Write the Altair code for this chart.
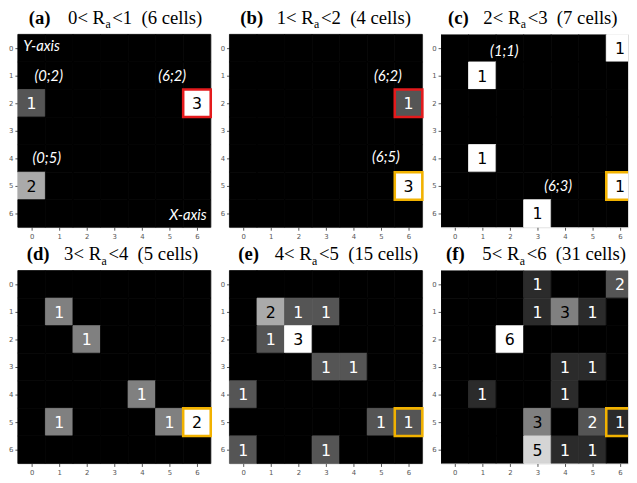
import altair as alt
import pandas as pd

# ---------------- data ----------------
panel_ids = ["a", "b", "c", "d", "e", "f"]
range_lo = [0, 1, 2, 3, 4, 5]
range_hi = [1, 2, 3, 4, 5, 6]
cell_counts = [6, 4, 7, 5, 15, 31]

cell_cols = {
    "a": [0, 6, 0],
    "b": [6, 6],
    "c": [6, 1, 1, 6, 3],
    "d": [1, 2, 4, 1, 5, 6],
    "e": [1, 2, 3, 1, 2, 3, 4, 0, 5, 6, 0, 3],
    "f": [3, 6, 3, 4, 5, 2, 4, 5, 1, 4, 3, 5, 6, 3, 4, 5],
}
cell_rows = {
    "a": [2, 2, 5],
    "b": [2, 5],
    "c": [0, 1, 4, 5, 6],
    "d": [1, 2, 4, 5, 5, 5],
    "e": [1, 1, 1, 2, 2, 3, 3, 4, 5, 5, 6, 6],
    "f": [0, 0, 1, 1, 1, 2, 3, 3, 4, 4, 5, 5, 5, 6, 6, 6],
}
cell_vals = {
    "a": [1, 3, 2],
    "b": [1, 3],
    "c": [1, 1, 1, 1, 1],
    "d": [1, 1, 1, 1, 1, 2],
    "e": [2, 1, 1, 1, 3, 1, 1, 1, 1, 1, 1, 1],
    "f": [1, 2, 1, 3, 1, 6, 1, 1, 1, 1, 3, 2, 1, 5, 1, 1],
}

red_cells = {"a": [(6, 2)], "b": [(6, 2)]}
orange_cells = {"b": [(6, 5)], "c": [(6, 5)], "d": [(6, 5)], "e": [(6, 5)], "f": [(6, 5)]}

ann_text = {
    "a": ["(0;2)", "(6;2)", "(0;5)"],
    "b": ["(6;2)", "(6;5)"],
    "c": ["(1;1)", "(6;3)"],
}
ann_x = {"a": [0.62, 5.1, 0.55], "b": [5.25, 5.18], "c": [1.8, 3.75]}
ann_y = {"a": [1.0, 1.0, 4.0], "b": [1.0, 3.96], "c": [0.1, 5.0]}

axis_names = ["Y-axis", "X-axis"]
axis_name_x = [-0.3, 6.35]
axis_name_y = [-0.07, 6.05]

# ---------------- styling ----------------
CELL = 28
RED = "#e41a1c"
ORANGE = "#f2b200"
title_label_x = [11, 11, 7, 9, 9, 5]
title_rest_x = [51, 48, 43, 47, 46, 42]
text_threshold = [0.5, 0.5, 0.5, 0.5, 0.5, 0.45]
x_max = [6.5, 6.5, 6.29, 6.5, 6.5, 6.29]

GRAY = alt.Scale(domain=[0, 1], range=["#000000", "#ffffff"], interpolate="rgb")


def ax():
    return alt.Axis(values=list(range(7)), labelFontSize=7, labelColor="#555",
                    tickColor="#555", tickSize=3, labelPadding=2, domain=False,
                    grid=False, title=None, labelAngle=0, labelFont="DejaVu Sans")


def xs(xm):
    return alt.Scale(domain=[-0.5, xm], nice=False, zero=False)


YS = alt.Scale(domain=[-0.5, 6.5], nice=False, zero=False, reverse=True)


def seg(text, x, y, size, weight="normal", font="Liberation Serif"):
    return alt.Chart(pd.DataFrame({"t": [text]})).mark_text(
        align="left", baseline="alphabetic", font=font, fontSize=size,
        fontWeight=weight, color="black"
    ).encode(x=alt.value(x), y=alt.value(y), text="t:N")


def panel(i):
    pid = panel_ids[i]
    xm = x_max[i]
    clip = xm < 6.5
    vmax = max(cell_vals[pid])
    lookup = {(c, r): v for c, r, v in zip(cell_cols[pid], cell_rows[pid], cell_vals[pid])}
    grid = []
    for r in range(7):
        for c in range(7):
            v = lookup.get((c, r), 0)
            grid.append({"x0": c - 0.5, "x1": c + 0.5, "y0": r - 0.5, "y1": r + 0.5,
                         "norm": v / vmax})
    gdf = pd.DataFrame(grid)
    tdf = pd.DataFrame({"col": cell_cols[pid], "row": cell_rows[pid], "value": cell_vals[pid]})
    tdf["tcolor"] = ["black" if v / vmax > text_threshold[i] else "white" for v in tdf["value"]]

    rects = alt.Chart(gdf).mark_rect(clip=clip, strokeWidth=0.8).encode(
        x=alt.X("x0:Q", scale=xs(xm), axis=ax()),
        x2="x1:Q",
        y=alt.Y("y0:Q", scale=YS, axis=ax()),
        y2="y1:Q",
        color=alt.Color("norm:Q", scale=GRAY, legend=None),
        stroke=alt.Stroke("norm:Q", scale=GRAY, legend=None),
    )
    nums = alt.Chart(tdf).mark_text(font="DejaVu Sans", fontSize=16, baseline="middle",
                                    align="center", clip=clip, dy=1).encode(
        x=alt.X("col:Q", scale=xs(xm), axis=ax()),
        y=alt.Y("row:Q", scale=YS, axis=ax()),
        text="value:Q",
        color=alt.Color("tcolor:N", scale=None),
    )
    layers = [rects, nums]

    hl = []
    for (c, r) in red_cells.get(pid, []):
        hl.append({"x0": c - 0.5, "x1": c + 0.5, "y0": r - 0.5, "y1": r + 0.5, "hc": RED})
    for (c, r) in orange_cells.get(pid, []):
        hl.append({"x0": c - 0.5, "x1": c + 0.5, "y0": r - 0.5, "y1": r + 0.5, "hc": ORANGE})
    if hl:
        layers.append(alt.Chart(pd.DataFrame(hl)).mark_rect(filled=False, strokeWidth=2.6,
                                                             clip=clip).encode(
            x=alt.X("x0:Q", scale=xs(xm), axis=ax()), x2="x1:Q",
            y=alt.Y("y0:Q", scale=YS, axis=ax()), y2="y1:Q",
            stroke=alt.Stroke("hc:N", scale=None),
        ))

    if pid in ann_text:
        adf = pd.DataFrame({"t": ann_text[pid], "ax": ann_x[pid], "ay": ann_y[pid]})
        layers.append(alt.Chart(adf).mark_text(font="Lato", fontStyle="italic", fontSize=15,
                                               color="white", baseline="middle").encode(
            x=alt.X("ax:Q", scale=xs(xm), axis=ax()),
            y=alt.Y("ay:Q", scale=YS, axis=ax()),
            text="t:N",
        ))
    if pid == "a":
        ndf = pd.DataFrame({"t": axis_names, "ax": axis_name_x, "ay": axis_name_y})
        for k, al in enumerate(["left", "right"]):
            layers.append(alt.Chart(ndf.iloc[[k]]).mark_text(
                font="Lato", fontStyle="italic", fontSize=15, color="white",
                baseline="middle", align=al).encode(
                x=alt.X("ax:Q", scale=xs(xm), axis=ax()),
                y=alt.Y("ay:Q", scale=YS, axis=ax()),
                text="t:N",
            ))

    # title pieces
    lx = title_label_x[i]
    rx = title_rest_x[i]
    ty = -11
    layers.append(seg(f"({pid})", lx, ty, 19, weight="bold"))
    layers.append(seg(f"{range_lo[i]}<\u00a0R", rx, ty, 19))
    layers.append(seg("a", rx + 38, ty + 5, 12))
    layers.append(seg(f"<{range_hi[i]}\u00a0\u00a0({cell_counts[i]} cells)", rx + 45, ty, 19))

    w = round((xm + 0.5) * CELL)
    return alt.layer(*layers).properties(width=w, height=7 * CELL)


row1 = alt.hconcat(panel(0), panel(1), panel(2), spacing=7)
row2 = alt.hconcat(panel(3), panel(4), panel(5), spacing=7)
chart = alt.vconcat(row1, row2, spacing=4).resolve_scale(
    x="independent", y="independent", color="independent", stroke="independent"
).properties(
    padding={"left": 0, "top": -4, "right": 0, "bottom": 0}
).configure_view(fill="black", stroke="#444", strokeWidth=1
).configure(background="white")

chart.save("out.html", embed_options={"renderer": "svg", "actions": False})
